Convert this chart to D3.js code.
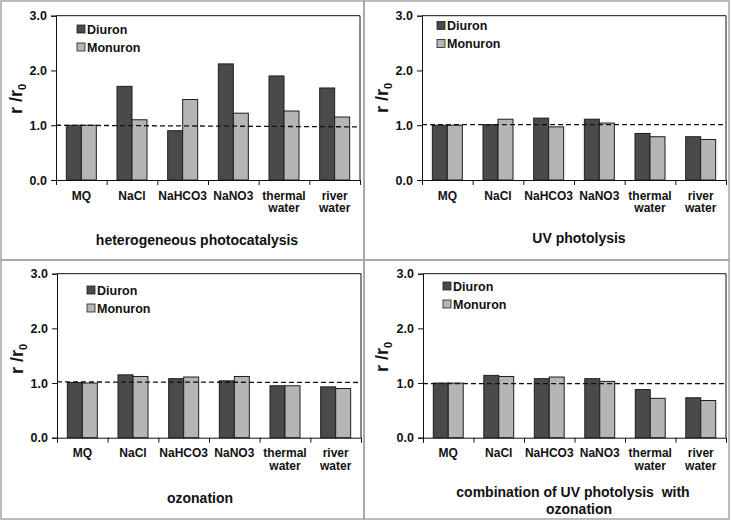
<!DOCTYPE html>
<html>
<head>
<meta charset="utf-8">
<script src="https://cdn.jsdelivr.net/npm/d3@7/dist/d3.min.js"></script>
<style>
  html, body { margin: 0; padding: 0; background: #fff; }
  svg { display: block; }
  text { font-family: "Liberation Sans", Arial, sans-serif; font-weight: bold; fill: #111; white-space: pre; }
</style>
</head>
<body>
<svg id="chart" width="732" height="522"></svg>
<script>
// ---------------- data ----------------
const categories = ["MQ", "NaCl", "NaHCO3", "NaNO3", "thermal water", "river water"];
const seriesNames = ["Diuron", "Monuron"];
const yTicks = [0, 1, 2, 3];

const photocatalysisDiuron  = [1.00, 1.71, 0.90, 2.12, 1.90, 1.68];
const photocatalysisMonuron = [1.00, 1.10, 1.47, 1.22, 1.26, 1.15];

const uvDiuron  = [1.00, 1.01, 1.13, 1.11, 0.85, 0.79];
const uvMonuron = [1.00, 1.11, 0.97, 1.04, 0.79, 0.74];

const ozoneDiuron  = [1.01, 1.15, 1.08, 1.04, 0.95, 0.93];
const ozoneMonuron = [1.00, 1.12, 1.11, 1.12, 0.95, 0.90];

const comboDiuron  = [1.00, 1.14, 1.08, 1.08, 0.88, 0.73];
const comboMonuron = [1.00, 1.12, 1.11, 1.03, 0.72, 0.68];

const panelTitles = [
  ["heterogeneous photocatalysis"],
  ["UV photolysis"],
  ["ozonation"],
  ["combination of UV photolysis  with", "ozonation"]
];
// dashed reference line level (start, end)
const refLines = [[1.00, 0.97], [1.01, 1.01], [1.02, 1.01], [0.99, 0.99]];

// ---------------- layout ----------------
const panels = [
  { d: photocatalysisDiuron, m: photocatalysisMonuron, box: [1, 1, 364, 260],   x0: 56,  x1: 360, yb: 180,   yt: 15.7,
    leg: [77, 29], yl: [16, 99],  title: [[197, 245]] },
  { d: uvDiuron, m: uvMonuron,                         box: [364, 1, 729, 260], x0: 422, x1: 726, yb: 180,   yt: 15.7,
    leg: [437, 25.5], yl: [382, 98], title: [[579, 243]] },
  { d: ozoneDiuron, m: ozoneMonuron,                   box: [1, 260, 364, 519], x0: 57,  x1: 361, yb: 437.7, yt: 273.7,
    leg: [87, 290], yl: [17, 359], title: [[200, 503]] },
  { d: comboDiuron, m: comboMonuron,                   box: [364, 260, 729, 519], x0: 423, x1: 726, yb: 437.7, yt: 273.7,
    leg: [443, 286], yl: [382, 357], title: [[573, 497], [579, 514]] }
];

const colors = { Diuron: "#4a4a4a", Monuron: "#b5b5b5" };
const svg = d3.select("#chart");

panels.forEach((p, pi) => {
  // panel border
  svg.append("rect")
    .attr("x", p.box[0]).attr("y", p.box[1])
    .attr("width", p.box[2] - p.box[0]).attr("height", p.box[3] - p.box[1])
    .attr("fill", "none").attr("stroke", "#a5a5a5").attr("stroke-width", 1.5);

  const g = svg.append("g");
  const y = d3.scaleLinear().domain([0, 3]).range([p.yb, p.yt]);
  const n = categories.length;
  const x = d3.scaleBand().domain(categories).range([p.x0, p.x1])
    .paddingInner(0.408).paddingOuter(0.204);
  const xs = d3.scaleBand().domain(seriesNames).range([0, x.bandwidth()]);
  const xi = d3.scaleLinear().domain([0, n]).range([p.x0, p.x1]);

  // plot frame (top + right)
  g.append("path")
    .attr("d", `M${p.x0},${p.yt}H${p.x1}V${p.yb}`)
    .attr("fill", "none").attr("stroke", "#111").attr("stroke-width", 1);

  // bars
  const rows = categories.map((c, i) => ({ c, vals: [p.d[i], p.m[i]] }));
  const grp = g.selectAll(".grp").data(rows).enter().append("g")
    .attr("transform", r => `translate(${x(r.c)},0)`);
  grp.selectAll("rect").data(r => seriesNames.map((s, k) => ({ s, v: r.vals[k] })))
    .enter().append("rect")
    .attr("x", d => xs(d.s))
    .attr("width", xs.bandwidth())
    .attr("y", d => y(d.v))
    .attr("height", d => y(0) - y(d.v))
    .attr("fill", d => colors[d.s])
    .attr("stroke", "#1e1e1e").attr("stroke-width", 1);

  // dashed reference line
  g.append("line")
    .attr("x1", p.x0).attr("x2", p.x1)
    .attr("y1", y(refLines[pi][0])).attr("y2", y(refLines[pi][1]))
    .attr("stroke", "#111").attr("stroke-width", 1.3)
    .attr("stroke-dasharray", "5,3");

  // y axis
  const ya = g.append("g").attr("transform", `translate(${p.x0},0)`)
    .call(d3.axisLeft(y).tickValues(yTicks).tickSize(5).tickPadding(4).tickFormat(d3.format(".1f")));
  ya.select(".domain").attr("stroke", "#111");
  ya.selectAll(".tick line").attr("stroke", "#111");
  ya.selectAll("text").attr("font-size", 12.5).attr("font-family", "Liberation Sans, Arial, sans-serif")
    .attr("font-weight", "bold").attr("fill", "#111");

  // x axis (ticks at category boundaries)
  const xa = g.append("g").attr("transform", `translate(0,${p.yb})`)
    .call(d3.axisBottom(xi).tickValues(d3.range(n + 1)).tickSize(5).tickFormat(""));
  xa.select(".domain").attr("stroke", "#111");
  xa.selectAll(".tick line").attr("stroke", "#111");

  // category labels
  categories.forEach(c => {
    const lines = c.split(" ");
    const t = g.append("text").attr("text-anchor", "middle").attr("font-size", 12);
    lines.forEach((ln, li) => {
      t.append("tspan").attr("x", x(c) + x.bandwidth() / 2).attr("y", p.yb + 19.5 + li * 12.5).text(ln);
    });
  });

  // legend
  seriesNames.forEach((s, k) => {
    const ly = p.leg[1] + k * 18;
    g.append("rect").attr("x", p.leg[0]).attr("y", ly - 4).attr("width", 8).attr("height", 8)
      .attr("fill", colors[s]).attr("stroke", "#1e1e1e").attr("stroke-width", 0.8);
    g.append("text").attr("x", p.leg[0] + 10).attr("y", ly + 4.5).attr("font-size", 12.5).text(s);
  });

  // y label "r /r0"
  const yl = g.append("text").attr("transform", `translate(${p.yl[0] + 6},${p.yl[1]}) rotate(-90)`)
    .attr("text-anchor", "middle").attr("font-size", 18);
  yl.append("tspan").text("r /r");
  yl.append("tspan").attr("font-size", 11).attr("dy", 4).text("0");

  // panel title
  panelTitles[pi].forEach((tx, li) => {
    g.append("text").attr("x", p.title[li][0]).attr("y", p.title[li][1])
      .attr("text-anchor", "middle").attr("font-size", 14).text(tx);
  });
});
</script>
</body>
</html>
